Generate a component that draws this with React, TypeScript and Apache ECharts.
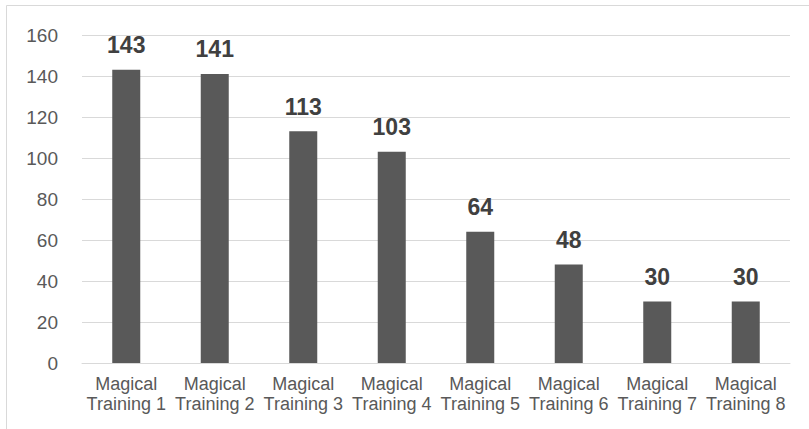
import React, { useEffect, useRef } from "react";
import * as echarts from "echarts";

const categories = [
  "Magical\nTraining 1",
  "Magical\nTraining 2",
  "Magical\nTraining 3",
  "Magical\nTraining 4",
  "Magical\nTraining 5",
  "Magical\nTraining 6",
  "Magical\nTraining 7",
  "Magical\nTraining 8",
];
const values = [143, 141, 113, 103, 64, 48, 30, 30];

const FONT = "Liberation Sans, Arial, sans-serif";

export default function App() {
  const ref = useRef<HTMLDivElement>(null);

  useEffect(() => {
    if (!ref.current) return;
    const chart = echarts.init(ref.current, null, { renderer: "svg" });
    chart.setOption({
      animation: false,
      backgroundColor: "#ffffff",
      graphic: [
        {
          type: "rect",
          shape: { x: 6.5, y: 5.5, width: 900, height: 600 },
          style: { fill: "none", stroke: "#d9d9d9", lineWidth: 1 },
          silent: true,
        },
      ],
      grid: { left: 82, right: 19, top: 35, bottom: 66 },
      xAxis: {
        type: "category",
        data: categories,
        axisLine: { lineStyle: { color: "#d9d9d9", width: 1 } },
        axisTick: { show: false },
        axisLabel: {
          color: "#595959",
          fontFamily: FONT,
          fontSize: 18,
          lineHeight: 20,
          margin: 11,
          interval: 0,
        },
      },
      yAxis: {
        type: "value",
        min: 0,
        max: 160,
        interval: 20,
        axisLine: { show: false },
        axisTick: { show: false },
        splitLine: { lineStyle: { color: "#d9d9d9", width: 1 } },
        axisLabel: {
          color: "#595959",
          fontFamily: FONT,
          fontSize: 19,
          margin: 24,
        },
      },
      series: [
        {
          type: "bar",
          data: values,
          barWidth: 28,
          itemStyle: { color: "#595959" },
          label: {
            show: true,
            position: "top",
            distance: 13,
            color: "#404040",
            fontFamily: FONT,
            fontSize: 23,
            fontWeight: "bold",
          },
        },
      ],
    });
    return () => chart.dispose();
  }, []);

  return (
    <div
      ref={ref}
      style={{ position: "fixed", left: 0, top: 0, width: 809, height: 429 }}
    />
  );
}
